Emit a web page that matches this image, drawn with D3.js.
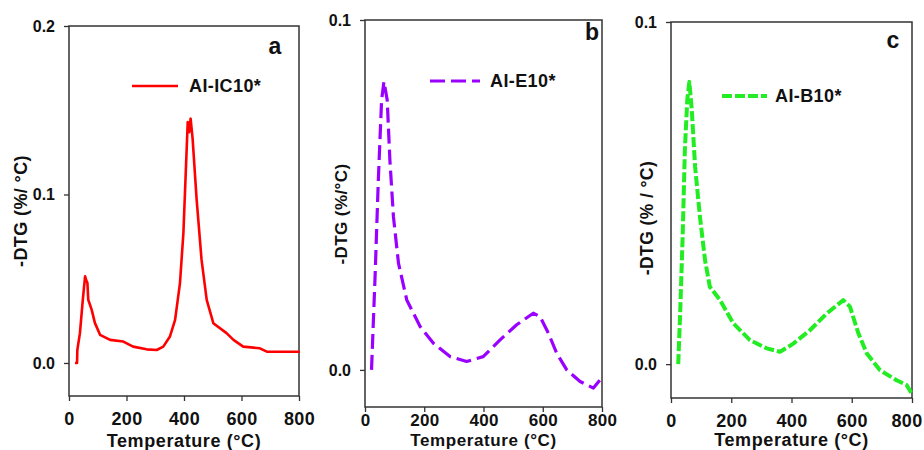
<!DOCTYPE html>
<html>
<head>
<meta charset="utf-8">
<script src="https://cdn.jsdelivr.net/npm/d3@7"></script>
<style>
  body { margin: 0; background: #fff; }
  svg text { font-family: "Liberation Sans", Arial, sans-serif; font-weight: bold; fill: #111; }
</style>
</head>
<body>
<div id="chart"></div>
<script>
// panel a: Al-IC10*
const tempA = [21, 28, 29, 38, 48, 56, 60, 64, 67, 79, 90, 108, 143, 189, 223, 270, 305, 328, 351, 369, 386, 398, 407, 413, 418, 423, 430, 444, 461, 479, 502, 548, 572, 606, 664, 688, 803];
const dtgA  = [0, 0, 0.0077, 0.0177, 0.0375, 0.0514, 0.049, 0.0476, 0.0375, 0.0315, 0.0238, 0.0167, 0.0137, 0.0127, 0.0097, 0.0081, 0.0077, 0.0097, 0.0157, 0.0256, 0.0474, 0.0774, 0.117, 0.143, 0.137, 0.145, 0.133, 0.097, 0.0613, 0.0375, 0.0236, 0.0177, 0.0137, 0.0097, 0.0087, 0.0067, 0.0067];

// panel b: Al-E10*
const tempB = [22, 34, 45, 56, 64, 75, 84, 96, 113, 141, 186, 231, 287, 343, 399, 456, 512, 568, 591, 619, 647, 681, 726, 771, 793];
const dtgB  = [0, 0.0267, 0.0543, 0.0771, 0.0824, 0.0771, 0.06, 0.0438, 0.0305, 0.02, 0.0124, 0.0076, 0.0038, 0.0024, 0.0038, 0.0086, 0.0129, 0.0162, 0.0152, 0.0105, 0.0048, 0, -0.0033, -0.0052, -0.0029];

// panel c: Al-B10*
const tempC = [24, 30, 39, 46, 54, 61, 69, 80, 96, 113, 129, 163, 207, 262, 318, 362, 406, 461, 517, 572, 594, 622, 650, 694, 749, 782, 799];
const dtgC  = [0, 0.0138, 0.0382, 0.0626, 0.0772, 0.0825, 0.0743, 0.0577, 0.0431, 0.0304, 0.0226, 0.0187, 0.0119, 0.007, 0.0046, 0.0036, 0.006, 0.0099, 0.0148, 0.0187, 0.0168, 0.009, 0.0031, -0.0018, -0.0047, -0.0061, -0.0086];

const xTicks = [0, 200, 400, 600, 800];
const yTicksA = [0, 0.1, 0.2];
const yTicksBC = [0, 0.1];
const seriesNames = ["AI-IC10*", "AI-E10*", "AI-B10*"];
const panelLetters = ["a", "b", "c"];

const width = 924, height = 450;

const panels = [
  { x: tempA, y: dtgA, name: seriesNames[0], letter: panelLetters[0], yTicks: yTicksA,
    left: 69, right: 299, top: 26, bottom: 396, yDomain: [-0.0196, 0.2],
    color: "#ff0000", strokeWidth: 2.6, dash: null,
    legend: { x1: 132, x2: 178, y: 86, tx: 189 }, letterPos: [275, 54],
    yTitle: "-DTG (%/ °C)", yTitleX: 21, yTitleY: 211, yTitleSize: 18,
    xLabelY: 425, xLabelSize: 18, xTitleY: 447, xTitleSize: 18 },
  { x: tempB, y: dtgB, name: seriesNames[1], letter: panelLetters[1], yTicks: yTicksBC,
    left: 365, right: 602, top: 20, bottom: 407, yDomain: [-0.0106, 0.1],
    color: "#9a00ff", strokeWidth: 3.2, dash: "15,6",
    legend: { x1: 430, x2: 480, y: 81, tx: 490 }, letterPos: [592, 40],
    yTitle: "-DTG (%/°C)", yTitleX: 341, yTitleY: 214, yTitleSize: 17,
    xLabelY: 426, xLabelSize: 17, xTitleY: 446, xTitleSize: 17 },
  { x: tempC, y: dtgC, name: seriesNames[2], letter: panelLetters[2], yTicks: yTicksBC,
    left: 671, right: 912, top: 22, bottom: 398, yDomain: [-0.0099, 0.1],
    color: "#22ec22", strokeWidth: 4, dash: "10,3",
    legend: { x1: 722, x2: 767, y: 96, tx: 775 }, letterPos: [893, 48],
    yTitle: "-DTG (% / °C)", yTitleX: 647, yTitleY: 218, yTitleSize: 17.5,
    xLabelY: 427, xLabelSize: 18, xTitleY: 446, xTitleSize: 18 }
];

const svg = d3.select("#chart")
  .append("svg")
  .attr("width", width)
  .attr("height", height);

panels.forEach(p => {
  const x = d3.scaleLinear().domain([0, 800]).range([p.left, p.right]);
  const y = d3.scaleLinear().domain(p.yDomain).range([p.bottom, p.top]);
  const g = svg.append("g");

  // frame
  g.append("rect")
    .attr("x", p.left).attr("y", p.top)
    .attr("width", p.right - p.left).attr("height", p.bottom - p.top)
    .attr("fill", "none").attr("stroke", "#333").attr("stroke-width", 1.5);

  // x axis
  const xa = g.append("g")
    .attr("transform", `translate(0,${p.bottom})`)
    .call(d3.axisBottom(x).tickValues(xTicks).tickSize(5).tickFormat(d3.format("d")));
  xa.select(".domain").remove();
  xa.selectAll("line").attr("stroke", "#333").attr("stroke-width", 1.3);
  xa.selectAll("text")
    .attr("y", null).attr("dy", null)
    .attr("transform", `translate(0,${p.xLabelY - p.bottom})`)
    .style("font-size", p.xLabelSize + "px").style("letter-spacing", "0.3px")
    .attr("fill", "#111");
  // keep the last label inside the page
  xa.selectAll("text")
    .filter(d => x(d) + 17 > width)
    .attr("text-anchor", "end")
    .attr("x", width - 2 - x(800));

  // y axis
  const ya = g.append("g")
    .attr("transform", `translate(${p.left},0)`)
    .call(d3.axisLeft(y).tickValues(p.yTicks).tickSize(5).tickFormat(d3.format(".1f")));
  ya.select(".domain").remove();
  ya.selectAll("line").attr("stroke", "#333").attr("stroke-width", 1.3);
  ya.selectAll("text")
    .attr("x", -14)
    .style("font-size", "16px")
    .attr("fill", "#111");

  // curve
  const line = d3.line()
    .x((d, i) => x(p.x[i]))
    .y(d => y(d));
  g.append("path")
    .datum(p.y)
    .attr("d", line)
    .attr("fill", "none")
    .attr("stroke", p.color)
    .attr("stroke-width", p.strokeWidth)
    .attr("stroke-linejoin", "round")
    .attr("stroke-dasharray", p.dash);

  // legend
  g.append("line")
    .attr("x1", p.legend.x1).attr("x2", p.legend.x2)
    .attr("y1", p.legend.y).attr("y2", p.legend.y)
    .attr("stroke", p.color)
    .attr("stroke-width", p.strokeWidth)
    .attr("stroke-dasharray", p.dash);
  g.append("text")
    .attr("x", p.legend.tx).attr("y", p.legend.y)
    .attr("dy", "0.36em")
    .style("font-size", "18px").style("letter-spacing", "0.4px")
    .text(p.name);

  // panel letter
  g.append("text")
    .attr("x", p.letterPos[0]).attr("y", p.letterPos[1])
    .attr("text-anchor", "middle")
    .style("font-size", "23px")
    .text(p.letter);

  // axis titles
  g.append("text")
    .attr("x", (p.left + p.right) / 2).attr("y", p.xTitleY)
    .attr("text-anchor", "middle")
    .style("font-size", p.xTitleSize + "px").style("letter-spacing", "0.6px")
    .text("Temperature (°C)");
  g.append("text")
    .attr("transform", `translate(${p.yTitleX},${p.yTitleY}) rotate(-90)`)
    .attr("text-anchor", "middle")
    .attr("dy", "0.36em")
    .style("font-size", p.yTitleSize + "px").style("letter-spacing", "0.4px")
    .text(p.yTitle);
});
</script>
</body>
</html>
